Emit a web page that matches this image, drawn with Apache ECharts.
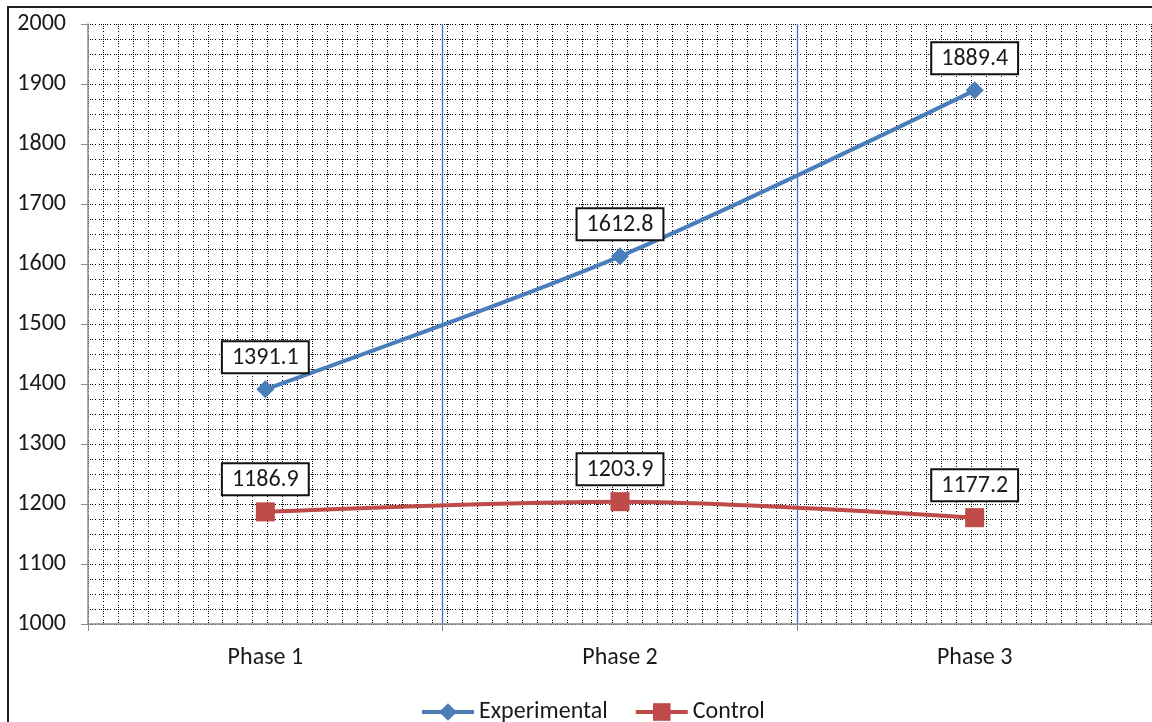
<!DOCTYPE html>
<html>
<head>
<meta charset="utf-8">
<script src="https://cdn.jsdelivr.net/npm/echarts@6/dist/echarts.min.js"></script>
<style>
  html, body { margin: 0; padding: 0; background: #fff; }
  #chart { width: 1152px; height: 722px; }
</style>
</head>
<body>
<div id="chart"></div>
<script>
// Phase measurements for the two groups
const phases = ['Phase 1', 'Phase 2', 'Phase 3'];
const experimental = [1391.1, 1612.8, 1889.4];
const control = [1186.9, 1203.9, 1177.2];
const seriesNames = ['Experimental', 'Control'];

const FONT = 'Calibri, Carlito, "Liberation Sans", Arial, sans-serif';
const TEXT = '#1a1a1a';
const BLUE = '#4A7EBB';
const RED = '#BE4B48';
const DIVIDER = '#3f73c4';

// dotted mesh: dots cluster near each crossing, sparse mid-cell (15px period)
const meshDash = [1, 1, 1, 1, 1, 2, 1, 3, 1, 1, 1, 1];
const dotted = { color: '#000', width: 1, type: meshDash, dashOffset: 0 };

const labelBox = {
  show: true,
  position: 'top',
  distance: 8,
  fontFamily: FONT,
  fontSize: 24,
  lineHeight: 26,
  color: TEXT,
  backgroundColor: '#fff',
  borderColor: '#111',
  borderWidth: 2,
  padding: [3, 9, 1, 9],
  formatter: p => p.value.toFixed(1)
};

const chart = echarts.init(document.getElementById('chart'), null, { renderer: 'canvas' });
chart.setOption({
  animation: false,
  backgroundColor: '#fff',
  textStyle: { fontFamily: FONT },
  graphic: [{
    type: 'rect',
    shape: { x: 8, y: 7, width: 1300, height: 800 },
    style: { fill: 'none', stroke: '#222', lineWidth: 2 },
    silent: true,
    z: -10
  }],
  grid: { left: 88, top: 24, width: 1066, height: 600 },
  legend: {
    data: seriesNames,
    left: 415,
    top: 695,
    itemWidth: 52,
    itemHeight: 22,
    itemGap: 26,
    lineStyle: { width: 4 },
    textStyle: { fontFamily: FONT, fontSize: 24, color: TEXT }
  },
  xAxis: [{
    type: 'category',
    data: phases,
    boundaryGap: true,
    z: 5,
    axisLine: { lineStyle: { color: '#8c8c8c', width: 1.5 } },
    axisTick: { show: true, interval: 0, length: 7, lineStyle: { color: '#8c8c8c' } },
    axisLabel: { fontFamily: FONT, fontSize: 24, color: TEXT, margin: 22 },
    splitLine: {
      show: true, interval: 0, showMinLine: false,
      lineStyle: { color: DIVIDER, width: 1.3, type: 'solid' }
    }
  }, {
    // fine vertical mesh across the plot
    type: 'value',
    position: 'top',
    min: 0,
    max: 1066 / 15,
    interval: 1,
    axisLine: { show: false },
    axisTick: { show: false },
    axisLabel: { show: false },
    splitLine: { show: true, lineStyle: dotted }
  }],
  yAxis: {
    type: 'value',
    min: 1000,
    max: 2000,
    interval: 100,
    z: 1,
    axisLine: { show: true, lineStyle: { color: '#8c8c8c', width: 1.5 } },
    axisTick: { show: true, length: 7, lineStyle: { color: '#8c8c8c' } },
    axisLabel: { fontFamily: FONT, fontSize: 24, color: TEXT, margin: 22, formatter: v => String(v) },
    splitLine: { show: true, lineStyle: dotted },
    minorTick: { show: false, splitNumber: 4 },
    minorSplitLine: { show: true, lineStyle: dotted }
  },
  series: [{
    name: seriesNames[0],
    type: 'line',
    data: experimental,
    smooth: 0.3,
    symbol: 'diamond',
    symbolSize: 18,
    color: BLUE,
    lineStyle: { width: 4, color: BLUE },
    itemStyle: { color: BLUE },
    label: labelBox,
    z: 10
  }, {
    name: seriesNames[1],
    type: 'line',
    data: control,
    smooth: 0.3,
    symbol: 'rect',
    symbolSize: 19,
    color: RED,
    lineStyle: { width: 4, color: RED },
    itemStyle: { color: RED },
    label: labelBox,
    z: 10
  }]
});
</script>
</body>
</html>
